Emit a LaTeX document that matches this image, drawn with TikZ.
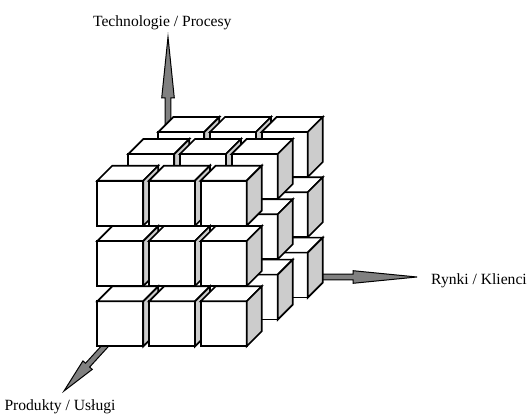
\documentclass[tikz,border=0pt]{standalone}
\usepackage{fontspec}
\setmainfont{Liberation Serif}
\usetikzlibrary{calc}

\begin{document}
\begin{tikzpicture}[x=1pt, y=-1pt]
    % Define styles
    \tikzstyle{face} = [draw=black, fill=white, line width=1.7pt]
    \tikzstyle{side} = [draw=black, fill=black!20, line width=1.7pt]
    \tikzstyle{axis} = [draw=black, fill=black!50, line width=1pt]
    \tikzstyle{axislabel} = [font=\fontsize{15.6}{18}\selectfont, inner sep=0pt, anchor=base]

    \path[use as bounding box, fill=white] (0,0) rectangle (530,414);

    % Axes
    \coordinate (origin) at (168, 277);
    \coordinate (tipT) at (168, 37);
    \coordinate (tipR) at (417, 277);
    \coordinate (tipP) at (64, 391);

    \foreach \tip/\len in {tipT/61, tipR/64, tipP/35} {
        \coordinate (head) at ($(\tip)!\len pt!(origin)$);
        \draw[axis] ($(origin)!2.8pt!90:(\tip)$) -- ($(head)!2.8pt!-90:(origin)$)
            -- ($(head)!6.3pt!-90:(origin)$) -- (\tip)
            -- ($(head)!6.3pt!90:(origin)$) -- ($(head)!2.8pt!90:(origin)$)
            -- ($(origin)!2.8pt!-90:(\tip)$) -- cycle;
    }

    % Labels
    \node[axislabel] (techlabel) at (162.3, 26.7) {Technologie / Procesy};
    \node[axislabel] (marketlabel) at (479, 284) {Rynki / Klienci};
    \node[axislabel] (productlabel) at (60, 410) {Produkty / Usługi};

    % Cubes: back layer first
    \foreach \lx/\ly in {158.3/132, 128.3/154, 97.3/180.7} {
        \foreach \r in {0,1,2} {
            \foreach \c in {0,1,2} {
                \begin{scope}[shift={(\lx+51.7*\c, \ly+60.3*\r)}]
                    \draw[face] (0,0) rectangle (46,45);
                    \draw[face] (0,0) -- (15,-15) -- (61,-15) -- (46,0) -- cycle;
                    \draw[side] (46,0) -- (61,-15) -- (61,30) -- (46,45) -- cycle;
                \end{scope}
            }
        }
    }
\end{tikzpicture}
\end{document}
